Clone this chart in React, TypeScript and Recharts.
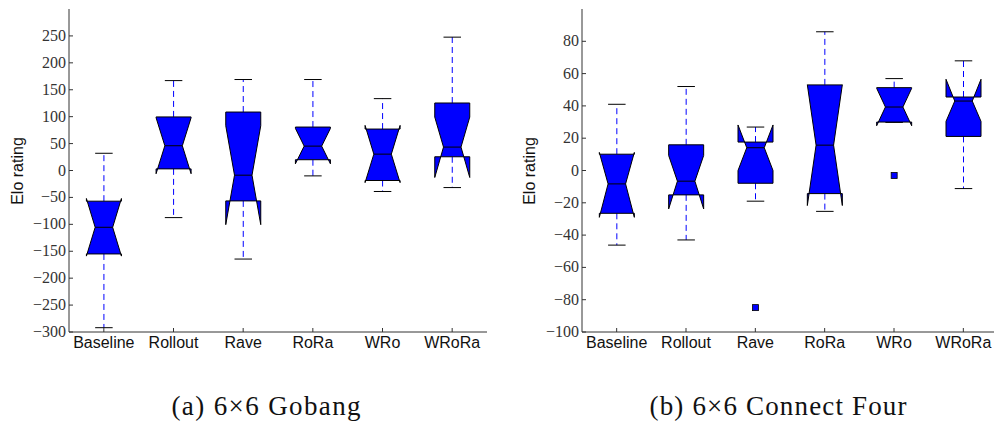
import React from 'react';
import { ComposedChart, Bar, XAxis, YAxis } from 'recharts';

const categories = ['Baseline', 'Rollout', 'Rave', 'RoRa', 'WRo', 'WRoRa'];

// (a) 6x6 Gobang
const gobangMin = [-292, -87.5, -164.5, -10, -39, -31.7];
const gobangQ1 = [-155, 3, -56.5, 20, -18.6, 25.5];
const gobangMedian = [-105.5, 46, -8.7, 45.3, 30.4, 43.5];
const gobangQ3 = [-57, 99.5, 108.6, 80.7, 77, 125.4];
const gobangMax = [32, 167, 169, 169, 133.5, 247.7];
const gobangNotchLo = [-159, -6, -100.6, 12.4, -22.5, -13];
const gobangNotchHi = [-52, 98, 83.2, 78.2, 83.8, 99.3];
const gobangOutliers: (number | null)[] = [null, null, null, null, null, null];
const gobangTicks = [-300, -250, -200, -150, -100, -50, 0, 50, 100, 150, 200, 250];

// (b) 6x6 Connect Four
const c4Min = [-46.2, -43, -19, -25.3, 29.8, -11.2];
const c4Q1 = [-26.5, -15.1, -7.9, -14.3, 30, 21.1];
const c4Median = [-8.3, -6.6, 14.1, 15.7, 39.3, 43];
const c4Q3 = [10.1, 15.9, 17.6, 53, 51.3, 45.5];
const c4Max = [41, 52, 26.9, 85.9, 56.9, 67.9];
const c4NotchLo = [-29, -23.8, 0, -21.7, 27.7, 30.4];
const c4NotchHi = [11.2, 9.3, 28.2, 53.1, 50.9, 56.5];
const c4Outliers: (number | null)[] = [null, null, -84.9, null, -3.1, null];
const c4Ticks = [-100, -80, -60, -40, -20, 0, 20, 40, 60, 80];

type Row = {
  name: string;
  min: number;
  q1: number;
  med: number;
  q3: number;
  max: number;
  nlo: number;
  nhi: number;
  out: number | null;
};

function buildRows(
  mins: number[],
  q1s: number[],
  meds: number[],
  q3s: number[],
  maxs: number[],
  nlos: number[],
  nhis: number[],
  outs: (number | null)[]
): Row[] {
  return categories.map((name, i) => ({
    name,
    min: mins[i],
    q1: q1s[i],
    med: meds[i],
    q3: q3s[i],
    max: maxs[i],
    nlo: nlos[i],
    nhi: nhis[i],
    out: outs[i],
  }));
}

const gobangRows = buildRows(gobangMin, gobangQ1, gobangMedian, gobangQ3, gobangMax, gobangNotchLo, gobangNotchHi, gobangOutliers);
const c4Rows = buildRows(c4Min, c4Q1, c4Median, c4Q3, c4Max, c4NotchLo, c4NotchHi, c4Outliers);

const FRAME = '#333';
const BLUE = '#0000ff';
const SERIF = "'Liberation Serif', 'DejaVu Serif', serif";
const SANS = "'Liberation Sans', Arial, sans-serif";

const fmt = (v: number) => (v < 0 ? '\u2212' + Math.abs(v) : String(v));

function BoxShape(props: any) {
  const { x, y, width, height, payload } = props;
  if (!payload) return null;
  const top = Math.min(y, y + height);
  const bottom = Math.max(y, y + height);
  const span = payload.max - payload.min;
  const k = span > 0 ? (bottom - top) / span : 0;
  const Y = (v: number) => bottom - (v - payload.min) * k;
  const L = x;
  const R = x + width;
  const cx = x + width / 2;
  const cL = cx - width / 4;
  const cR = cx + width / 4;
  const pts = [
    [L, Y(payload.q1)],
    [R, Y(payload.q1)],
    [R, Y(payload.nlo)],
    [cR, Y(payload.med)],
    [R, Y(payload.nhi)],
    [R, Y(payload.q3)],
    [L, Y(payload.q3)],
    [L, Y(payload.nhi)],
    [cL, Y(payload.med)],
    [L, Y(payload.nlo)],
  ]
    .map((p) => `${p[0]},${p[1]}`)
    .join(' ');
  return (
    <g>
      <line x1={cx} x2={cx} y1={Y(payload.q3)} y2={Y(payload.max)} stroke={BLUE} strokeWidth={1} strokeDasharray="6,4" />
      <line x1={cx} x2={cx} y1={Y(payload.q1)} y2={Y(payload.min)} stroke={BLUE} strokeWidth={1} strokeDasharray="6,4" />
      <line x1={cL} x2={cR} y1={Y(payload.max)} y2={Y(payload.max)} stroke="#000" strokeWidth={1} />
      <line x1={cL} x2={cR} y1={Y(payload.min)} y2={Y(payload.min)} stroke="#000" strokeWidth={1} />
      <polygon points={pts} fill={BLUE} stroke="#000" strokeWidth={1} strokeLinejoin="miter" />
      <line x1={cL} x2={cR} y1={Y(payload.med)} y2={Y(payload.med)} stroke="#000" strokeWidth={1} />
      {payload.out !== null && payload.out !== undefined ? (
        <rect x={cx - 3} y={Y(payload.out) - 3} width={6} height={6} fill={BLUE} stroke="#000" strokeWidth={0.8} />
      ) : null}
    </g>
  );
}

const LeftTick = (p: any) => (
  <g>
    <line x1={p.x} x2={p.x + 4} y1={p.y} y2={p.y} stroke={FRAME} strokeWidth={1} />
    <text x={p.x - 3} y={p.y + 5} textAnchor="end" style={{ fontFamily: SERIF, fontSize: 16 }} fill="#333">
      {fmt(p.payload.value)}
    </text>
  </g>
);
const RightTick = (p: any) => (
  <line x1={p.x} x2={p.x - 4} y1={p.y} y2={p.y} stroke={FRAME} strokeWidth={1} />
);
const BottomTick = (p: any) => (
  <g>
    <line x1={p.x} x2={p.x} y1={p.y} y2={p.y - 4} stroke={FRAME} strokeWidth={1} />
    <text x={p.x} y={p.y + 16} textAnchor="middle" style={{ fontFamily: SANS, fontSize: 16 }} fill="#111">
      {p.payload.value}
    </text>
  </g>
);
const TopTick = (p: any) => (
  <line x1={p.x} x2={p.x} y1={p.y} y2={p.y + 4} stroke={FRAME} strokeWidth={1} />
);

function Panel(props: {
  rows: Row[];
  ticks: number[];
  domain: [number, number];
  left: number;
  width: number;
  yAxisWidth: number;
  marginRight: number;
}) {
  const { rows, ticks, domain, left, width, yAxisWidth, marginRight } = props;
  return (
    <div style={{ position: 'absolute', left, top: 0 }}>
      <ComposedChart
        width={width}
        height={425}
        data={rows}
        margin={{ top: 9, right: marginRight, bottom: 63, left: 0 }}
        barCategoryGap="25%"
      >
        <XAxis
          xAxisId="b"
          dataKey="name"
          type="category"
          orientation="bottom"
          height={30}
          interval={0}
          tickSize={0}
          tickMargin={0}
          tickLine={false}
          axisLine={{ stroke: FRAME, strokeWidth: 1 }}
          tick={(p: any) => <BottomTick {...p} />}
        />
        <XAxis
          xAxisId="t"
          dataKey="name"
          type="category"
          orientation="top"
          height={0}
          interval={0}
          tickSize={0}
          tickMargin={0}
          tickLine={false}
          axisLine={{ stroke: FRAME, strokeWidth: 1 }}
          tick={(p: any) => <TopTick {...p} />}
        />
        <YAxis
          yAxisId="l"
          type="number"
          domain={domain}
          ticks={ticks}
          interval={0}
          width={yAxisWidth}
          tickSize={0}
          tickMargin={0}
          tickLine={false}
          axisLine={{ stroke: FRAME, strokeWidth: 1 }}
          tick={(p: any) => <LeftTick {...p} />}
        />
        <YAxis
          yAxisId="r"
          orientation="right"
          type="number"
          domain={domain}
          ticks={ticks}
          interval={0}
          width={0}
          tickSize={0}
          tickMargin={0}
          tickLine={false}
          axisLine={{ stroke: FRAME, strokeWidth: 1 }}
          tick={(p: any) => <RightTick {...p} />}
        />
        <Bar
          xAxisId="b"
          yAxisId="l"
          dataKey={(d: Row) => [d.min, d.max]}
          shape={(p: any) => <BoxShape {...p} />}
          isAnimationActive={false}
        />
      </ComposedChart>
    </div>
  );
}

export default function App() {
  return (
    <div style={{ position: 'absolute', left: 0, top: 0, width: 994, height: 425, overflow: 'hidden', background: '#fff' }}>
      <Panel rows={gobangRows} ticks={gobangTicks} domain={[-300, 300]} left={0} width={500} yAxisWidth={69} marginRight={13} />
      <Panel rows={c4Rows} ticks={c4Ticks} domain={[-100, 100]} left={500} width={500} yAxisWidth={82} marginRight={2} />
      <svg width={994} height={425} style={{ position: 'absolute', left: 0, top: 0, pointerEvents: 'none' }}>
        <text x={17} y={171} transform="rotate(-90 17 171)" textAnchor="middle" dominantBaseline="central" style={{ fontFamily: SANS, fontSize: 16 }} fill="#111">
          Elo rating
        </text>
        <text x={529} y={171} transform="rotate(-90 529 171)" textAnchor="middle" dominantBaseline="central" style={{ fontFamily: SANS, fontSize: 16 }} fill="#111">
          Elo rating
        </text>
        <text x={266} y={415} textAnchor="middle" style={{ fontFamily: SERIF, fontSize: 27 }} fill="#111" textLength={189} lengthAdjust="spacing">
          (a) 6×6 Gobang
        </text>
        <text x={778} y={415} textAnchor="middle" style={{ fontFamily: SERIF, fontSize: 27 }} fill="#111" textLength={257} lengthAdjust="spacing">
          (b) 6×6 Connect Four
        </text>
      </svg>
    </div>
  );
}
